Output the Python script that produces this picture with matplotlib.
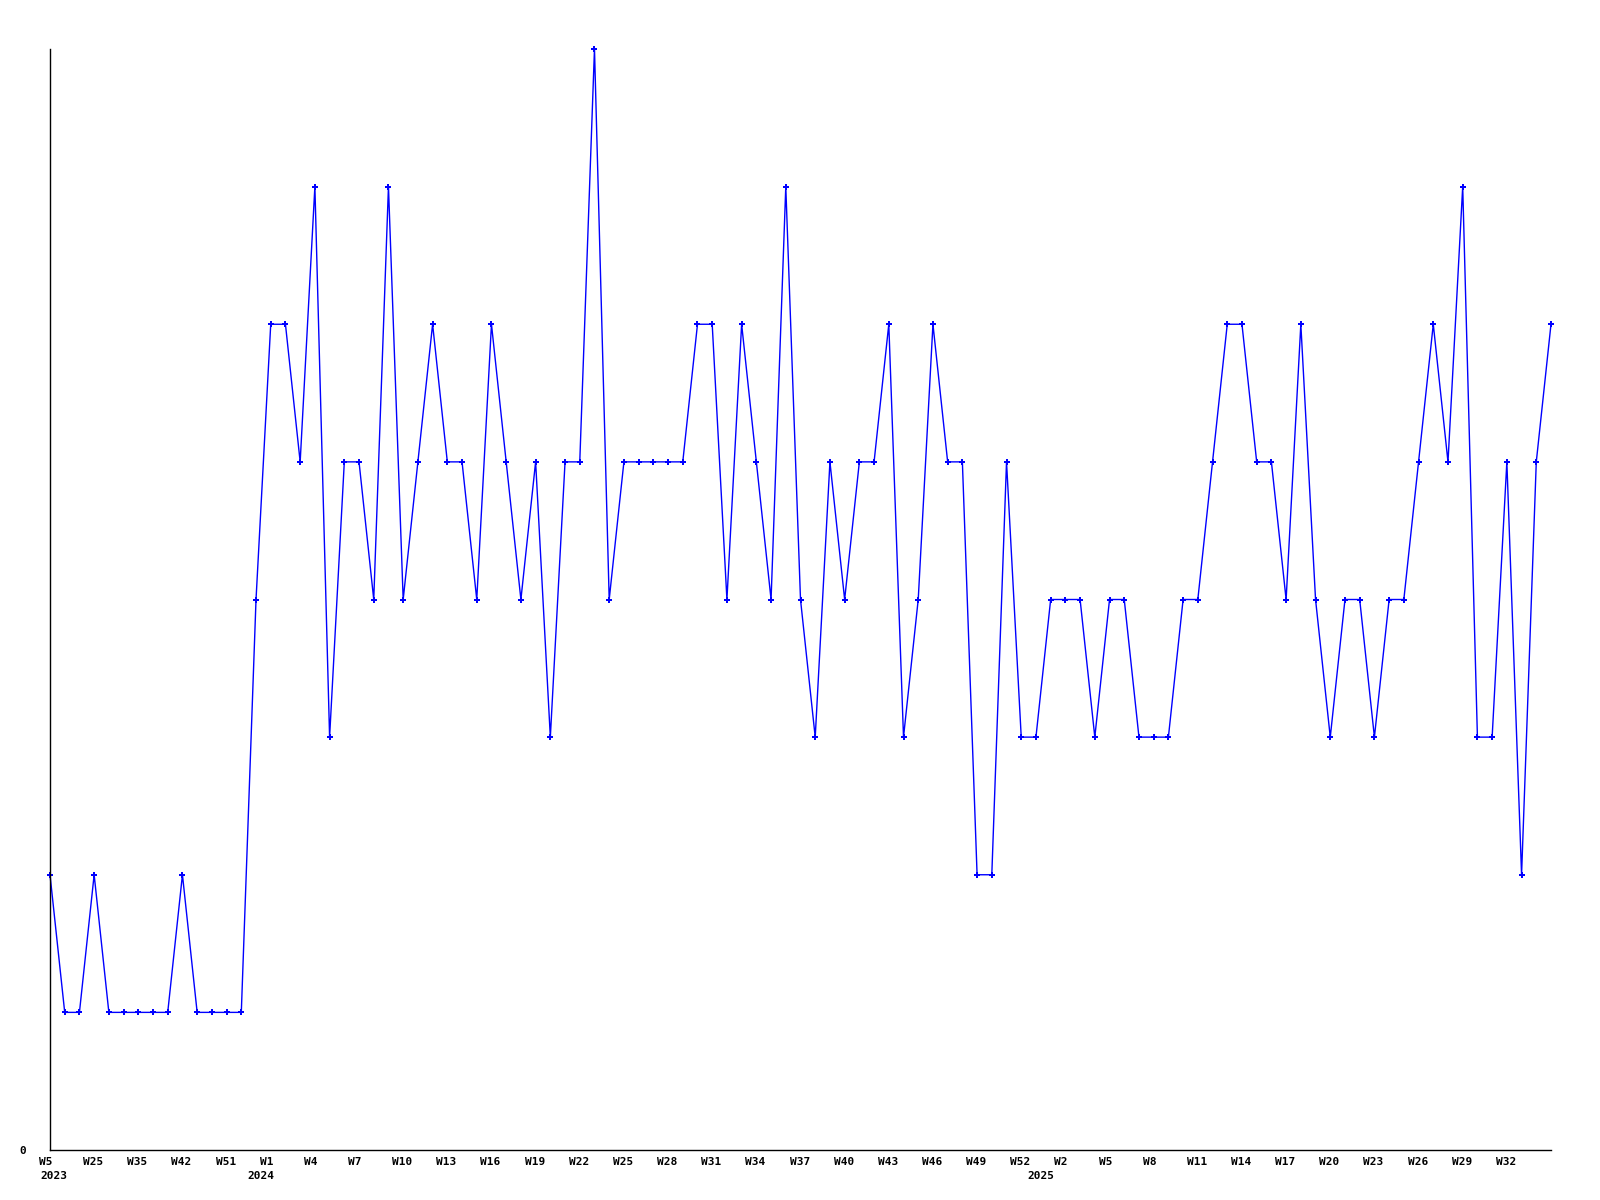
import matplotlib
matplotlib.use("Agg")
import matplotlib.pyplot as plt
from matplotlib.transforms import ScaledTranslation

# weekly counts (one value per week category, equally spaced)
values = [2, 1, 1, 2, 1, 1, 1, 1, 1, 2, 1, 1, 1, 1, 4,
          6, 6, 5, 7, 3, 5, 5, 4, 7, 4, 5, 6, 5, 5, 4, 6, 5, 4, 5, 3,
          5, 5, 8, 4, 5, 5, 5, 5, 5, 6, 6, 4, 6, 5, 4, 7, 4, 3, 5, 4,
          5, 5, 6, 3, 4, 6, 5, 5, 2, 2, 5, 3, 3,
          4, 4, 4, 3, 4, 4, 3, 3, 3, 4, 4, 5, 6, 6, 5, 5, 4, 6, 4, 3,
          4, 4, 3, 4, 4, 5, 6, 5, 7, 3, 3, 5, 2, 5, 6]

# labels shown every third week
tick_labels = ["W5", "W25", "W35", "W42", "W51",
               "W1", "W4", "W7", "W10", "W13", "W16", "W19", "W22", "W25",
               "W28", "W31", "W34", "W37", "W40", "W43", "W46", "W49", "W52",
               "W2", "W5", "W8", "W11", "W14", "W17", "W20", "W23", "W26",
               "W29", "W32"]
tick_step = 3
year_names = ["2023", "2024", "2025"]
year_start_index = [0, 15, 68]

font = {"family": "DejaVu Sans Mono", "weight": "bold", "size": 8}

fig = plt.figure(figsize=(16, 12), dpi=100)
ax = fig.add_axes([50 / 1600, 1 - 1150 / 1200, 1501 / 1600, 1101 / 1200])

x = list(range(len(values)))
ax.plot(x, values, color="#0000FF", linewidth=1.0, marker="P",
        markersize=4, markeredgewidth=0, clip_on=False)

ax.set_xlim(0, len(values) - 1)
ax.set_ylim(0, 8)

for s in ("top", "right"):
    ax.spines[s].set_visible(False)
for s in ("left", "bottom"):
    ax.spines[s].set_color("black")
    ax.spines[s].set_linewidth(1.0)

ax.set_yticks([0])
ax.set_yticklabels(["0"], fontdict=font)
ax.tick_params(axis="y", length=0, pad=17)

ticks = list(range(0, tick_step * len(tick_labels), tick_step))
ax.set_xticks(ticks)
ax.set_xticklabels(tick_labels, fontdict=font, ha="left")
ax.tick_params(axis="x", length=0, pad=5)
shift = ScaledTranslation(-11 / 100, 0, fig.dpi_scale_trans)
for lab in ax.get_xticklabels():
    lab.set_transform(lab.get_transform() + shift)

for i, (name, idx) in enumerate(zip(year_names, year_start_index)):
    if i == 0:
        ax.annotate(name, xy=(idx, 0), xycoords=("data", "axes fraction"),
                    xytext=(-10, -21), textcoords="offset pixels",
                    ha="left", va="top", **font)
    else:
        ax.annotate(name, xy=(idx, 0), xycoords=("data", "axes fraction"),
                    xytext=(-10, -21), textcoords="offset pixels",
                    ha="center", va="top", **font)

fig.savefig("out.png", dpi=100, facecolor="white")
